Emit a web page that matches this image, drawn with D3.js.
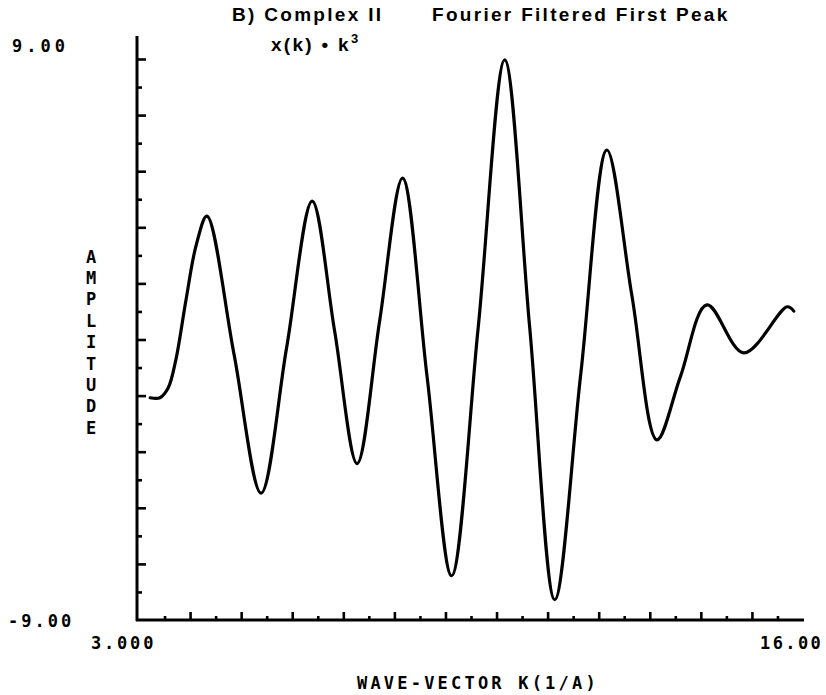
<!DOCTYPE html>
<html>
<head>
<meta charset="utf-8">
<script src="https://cdn.jsdelivr.net/npm/d3@7"></script>
<style>
  html, body { margin: 0; padding: 0; background: #fff; }
  svg { display: block; }
</style>
</head>
<body>
<svg id="chart" width="826" height="695"></svg>
<script>
// ---- data ----
const kValues = [3.22, 3.41, 3.57, 3.72, 3.92, 4.12, 4.33, 4.86, 5.39, 5.89, 6.39, 6.83, 7.27, 7.71, 8.16,
                 8.64, 9.12, 9.64, 10.16, 10.65, 11.14, 11.65, 12.16, 12.65, 13.14, 13.60, 14.12,
                 14.84, 15.69, 15.82];
const amplitude = [-1.87, -1.87, -1.56, -0.66, 1.27, 3.03, 3.96, -0.47, -4.93, -0.26, 4.44, 0.27, -3.98, 0.58, 5.18,
                   -1.19, -7.58, 0.37, 8.97, 0.37, -8.35, -1.09, 6.08, 1.41, -3.22, -1.19, 1.11,
                   -0.43, 1.05, 0.91];
const xDomain = [3, 16];
const yDomain = [-9, 9];
const xTickLabels = ["3.000", "16.00"];
const yTickLabels = ["9.00", "-9.00"];
const titleLeft = "B) Complex II";
const titleRight = "Fourier Filtered First Peak";
const subTitle = "x(k) \u2022 k";
const subTitleSup = "3";
const yAxisTitle = "AMPLITUDE";
const xAxisTitle = "WAVE-VECTOR K(1/A)";

(function () {
const svg = d3.select("#chart");
const mLeft = 139, mRight = 803, mTop = 59, mBottom = 620;
const x = d3.scaleLinear().domain(xDomain).range([mLeft, mRight]);
const y = d3.scaleLinear().domain(yDomain).range([mBottom, mTop]);

const labelFont = "'DejaVu Sans Mono', monospace";
const titleFont = "'Liberation Sans', Arial, sans-serif";

const yMinor = d3.range(0, 21).map(i => -9 + i * 0.9).filter((v, i) => i % 2 === 1);
const yMajor = d3.range(1, 11).map(i => -9 + i * 1.8);
const xMinor = d3.range(0, 26).map(i => 3 + i * 0.5).filter((v, i) => i % 2 === 1);
const xMajor = d3.range(1, 13).map(i => 3 + i);

function styleAxis(g) {
  g.select(".domain").remove();
  g.selectAll("text").remove();
  g.selectAll("line").attr("stroke", "#000").attr("stroke-width", 2.6);
}

svg.append("g").attr("transform", `translate(${mLeft - 2},0)`)
  .call(d3.axisRight(y).tickValues(yMajor).tickSize(9)).call(styleAxis);
svg.append("g").attr("transform", `translate(${mLeft - 2},0)`)
  .call(d3.axisRight(y).tickValues(yMinor).tickSize(5)).call(styleAxis);
svg.append("g").attr("transform", `translate(0,${mBottom})`)
  .call(d3.axisTop(x).tickValues(xMajor).tickSize(8)).call(styleAxis);
svg.append("g").attr("transform", `translate(0,${mBottom})`)
  .call(d3.axisTop(x).tickValues(xMinor).tickSize(4)).call(styleAxis);

svg.append("line").attr("x1", mLeft - 2).attr("x2", mLeft - 2).attr("y1", mTop - 23).attr("y2", mBottom + 1)
  .attr("stroke", "#000").attr("stroke-width", 3);
svg.append("line").attr("x1", mLeft - 3).attr("x2", mRight + 1).attr("y1", mBottom).attr("y2", mBottom)
  .attr("stroke", "#000").attr("stroke-width", 3);

const pts = kValues.map((k, i) => [k, amplitude[i]]);
const line = d3.line().x(d => x(d[0])).y(d => y(d[1])).curve(d3.curveCatmullRom.alpha(0.5));
svg.append("path").datum(pts).attr("d", line)
  .attr("fill", "none").attr("stroke", "#000").attr("stroke-width", 3.2)
  .attr("stroke-linejoin", "round").attr("stroke-linecap", "round");

function lbl(txt, xx, yy, ls) {
  return svg.append("text").attr("x", xx).attr("y", yy).text(txt)
    .attr("font-family", labelFont).attr("font-weight", "bold").attr("font-size", 17)
    .attr("letter-spacing", ls);
}
lbl(yTickLabels[0], 12, 52, 4);
lbl(yTickLabels[1], 8, 627, 3);
lbl(xTickLabels[0], 91, 649, 2.8);
lbl(xTickLabels[1], 760, 649, 2.4);
lbl(xAxisTitle, 357, 689, 3.2);

function ttl(txt, xx, yy) {
  return svg.append("text").attr("x", xx).attr("y", yy)
    .attr("font-family", titleFont).attr("font-size", 19).attr("font-weight", "bold")
    .attr("letter-spacing", 2.3).text(txt);
}
ttl(titleLeft, 232, 21);
ttl(titleRight, 432, 21);
const t2 = svg.append("text").attr("x", 271).attr("y", 51)
  .attr("font-family", titleFont).attr("font-size", 19).attr("font-weight", "bold").attr("letter-spacing", 2.3);
t2.append("tspan").text(subTitle);
t2.append("tspan").attr("font-size", 13).attr("dy", -8).text(subTitleSup);

const ay = svg.append("text").attr("font-family", labelFont).attr("font-weight", "bold")
  .attr("font-size", 17).attr("text-anchor", "middle");
yAxisTitle.split("").forEach((c, i) => {
  ay.append("tspan").attr("x", 91).attr("y", 262.5 + i * 21.4).text(c);
});
})();
</script>
</body>
</html>
